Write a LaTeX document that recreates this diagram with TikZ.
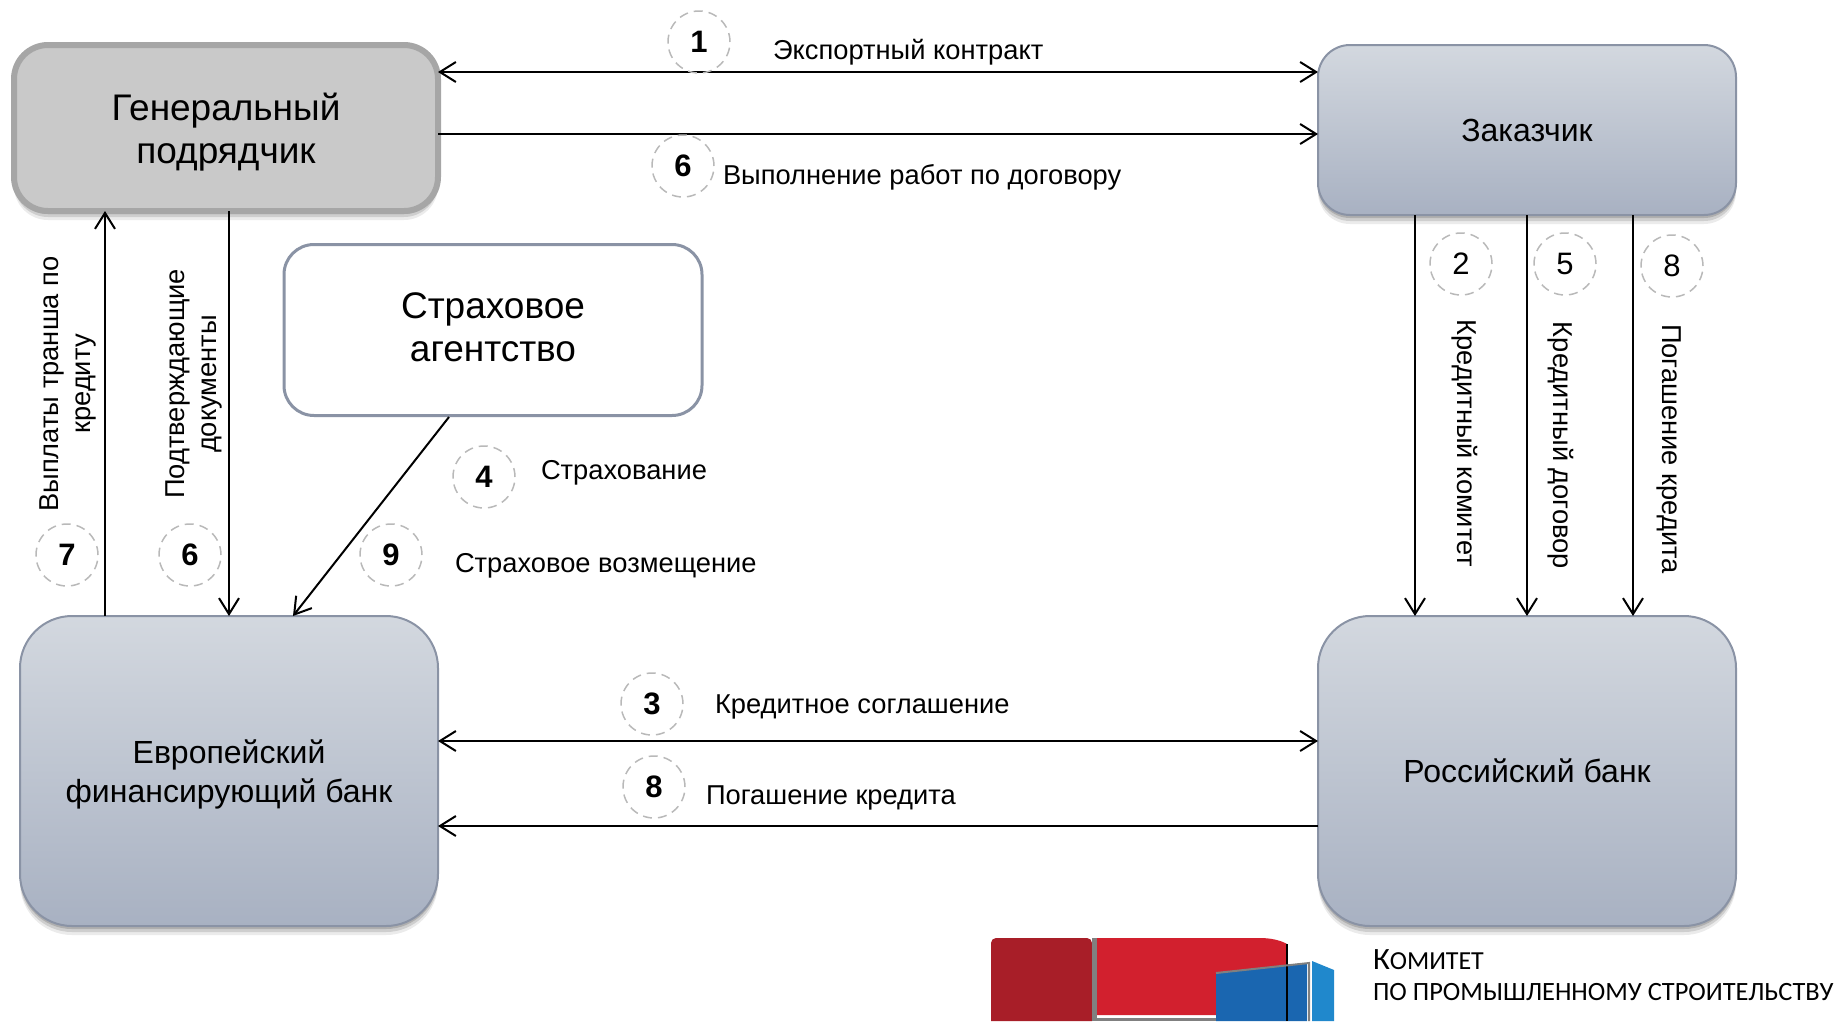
\documentclass[tikz,border=0pt]{standalone}
\usepackage{fontspec}
\setmainfont{Liberation Sans}
\newfontfamily\logofont{Carlito}
\usetikzlibrary{arrows.meta,shadows}
\definecolor{boxtop}{HTML}{D3D8DF}
\definecolor{boxbot}{HTML}{A8B1C2}
\definecolor{boxline}{HTML}{8A93A5}
\definecolor{darkred}{HTML}{A81E28}
\definecolor{midred}{HTML}{D2202E}
\definecolor{midblue}{HTML}{1A66B0}
\definecolor{lightblue}{HTML}{2088CC}
\newcommand{\fsize}[1]{\fontsize{#1}{#1}\selectfont}
\tikzset{
  softshadow/.style={
    drop shadow={shadow xshift=0pt,shadow yshift=-9pt,opacity=.08,fill=black},
    drop shadow={shadow xshift=0pt,shadow yshift=-6pt,opacity=.12,fill=black},
    drop shadow={shadow xshift=0pt,shadow yshift=-3pt,opacity=.15,fill=black}},
  bankbox/.style={draw=boxline,line width=2pt,top color=boxtop,bottom color=boxbot,softshadow,
    rounded corners=32pt,minimum width=418pt,outer sep=0pt,align=center},
  badge/.style={circle,draw=gray!55,dashed,dash pattern=on 9pt off 6pt,line width=1.5pt,
    minimum size=62pt,inner sep=0pt},
  num/.style={badge,font=\fsize{31}\bfseries},
  numplain/.style={badge,font=\fsize{31}},
  lbl/.style={anchor=west,inner sep=0pt,font=\fsize{27.3}},
  vlbl/.style={inner sep=0pt,font=\fsize{27.3},align=center,text height=21pt,text depth=6pt}
}
\begin{document}
\begin{tikzpicture}[x=1pt,y=-1pt,>={Straight Barb[length=16pt,width=20pt]},line width=2pt]
  \useasboundingbox (0,0) rectangle (1839,1021);

  \node[draw=gray!70,line width=6pt,fill=gray!42,rounded corners=34pt,minimum width=424pt,minimum height=166pt,
    outer sep=0pt,align=center,font=\fsize{37},softshadow]
    (Gen) at (226,128) {\rule{0pt}{36pt}Генеральный\\[6pt]подрядчик};
  \node[bankbox,minimum height=170pt,font=\fsize{32}] (Zak) at (1527,130) {Заказчик};
  \node[draw=boxline,line width=3pt,fill=white,rounded corners=30pt,minimum width=418pt,minimum height=171pt,
    outer sep=1.5pt,align=center,font=\fsize{37}] (Ins) at (493,330) {Страховое\\[6pt]агентство\rule[-5pt]{0pt}{5pt}};
  \node[bankbox,minimum height=310pt,rounded corners=52pt,font=\fsize{32}] (Eur) at (229,771)
    {\rule{0pt}{31pt}Европейский\\[7pt]финансирующий банк};
  \node[bankbox,minimum height=310pt,rounded corners=52pt,font=\fsize{32}] (Rus) at (1527,771) {Российский банк};

  \path (Gen.east |- 0,72)  edge[<->] (Zak.west |- 0,72)
        (Gen.east |- 0,134) edge[->]  (Zak.west |- 0,134)
        (Eur.east |- 0,741) edge[<->] (Rus.west |- 0,741)
        (Rus.west |- 0,826) edge[->]  (Eur.east |- 0,826)
        (Eur.north -| 105,0) edge[->] (Gen.south -| 105,0)
        (Gen.south -| 229,0) edge[->] (Eur.north -| 229,0)
        (Ins.south -| 449,0) edge[->] (Eur.north -| 293,0)
        (Zak.south -| 1415,0) edge[->] (Rus.north -| 1415,0)
        (Zak.south -| 1527,0) edge[->] (Rus.north -| 1527,0)
        (Zak.south -| 1633,0) edge[->] (Rus.north -| 1633,0);

  \node[num] (n1)  at (699,42)   {1};
  \node[num] (n6a) at (683,166)  {6};
  \node[numplain] (n2) at (1461,264) {2};
  \node[numplain] (n5) at (1565,264) {5};
  \node[numplain] (n8a) at (1672,266) {8};
  \node[num] (n4)  at (484,477)  {4};
  \node[num] (n7)  at (67,555)   {7};
  \node[num] (n6b) at (190,555)  {6};
  \node[num] (n9)  at (391,555)  {9};
  \node[num] (n3)  at (652,704)  {3};
  \node[num] (n8b) at (654,787)  {8};

  \node[lbl] (t1) at (772,52.5)  {Экспортный контракт};
  \node[lbl] (t6) at (722,177.5) {Выполнение работ по договору};
  \node[lbl] (t4) at (540,473)   {Страхование};
  \node[lbl] (t9) at (454,565.5) {Страховое возмещение};
  \node[lbl] (t3) at (714,706.5) {Кредитное соглашение};
  \node[lbl] (t8) at (705,797.5) {Погашение кредита};

  \node[vlbl,rotate=90]  (t7)  at (83,384)   {Выплаты транша по\\[5pt]кредиту};
  \node[vlbl,rotate=90]  (t6b) at (209,384)  {Подтверждающие\\[5pt]документы};
  \node[vlbl,rotate=-90] (t2)  at (1465,443.5) {Кредитный комитет};
  \node[vlbl,rotate=-90] (t5)  at (1561,445.5) {Кредитный договор};
  \node[vlbl,rotate=-90] (t8b) at (1670,449) {Погашение кредита};

  \fill[darkred] (991,1021) -- (991,944) [rounded corners=5pt] -- (991,938) -- (1092,938) [sharp corners] -- (1092,1021) -- cycle;
  \fill[midred] (1097,938) -- (1260,938) .. controls (1270,938) and (1280,940) .. (1287,944) -- (1287,1015) -- (1097,1015) -- cycle;
  \fill[gray] (1092,938) rectangle (1097,1021);
  \fill[gray] (1097,1018) rectangle (1216,1021);
  \fill[midblue] (1216,973) -- (1307,963) -- (1307,1021) -- (1216,1021) -- cycle;
  \fill[lightblue] (1312,961) -- (1334,970) -- (1334,1021) -- (1312,1021) -- cycle;
  \draw[line width=1.5pt] (1287,944) -- (1287,1021);
  \draw[gray,line width=2pt] (1216,973) -- (1309,963) -- (1309,1021);
  \node[anchor=west,inner sep=0pt,font=\logofont\fsize{31}] (cm1) at (1372,960) {К{\fsize{26}ОМИТЕТ}};
  \node[anchor=west,inner sep=0pt,font=\logofont\fsize{26.4}] (cm2) at (1372,992) {ПО ПРОМЫШЛЕННОМУ СТРОИТЕЛЬСТВУ};
\end{tikzpicture}
\end{document}
